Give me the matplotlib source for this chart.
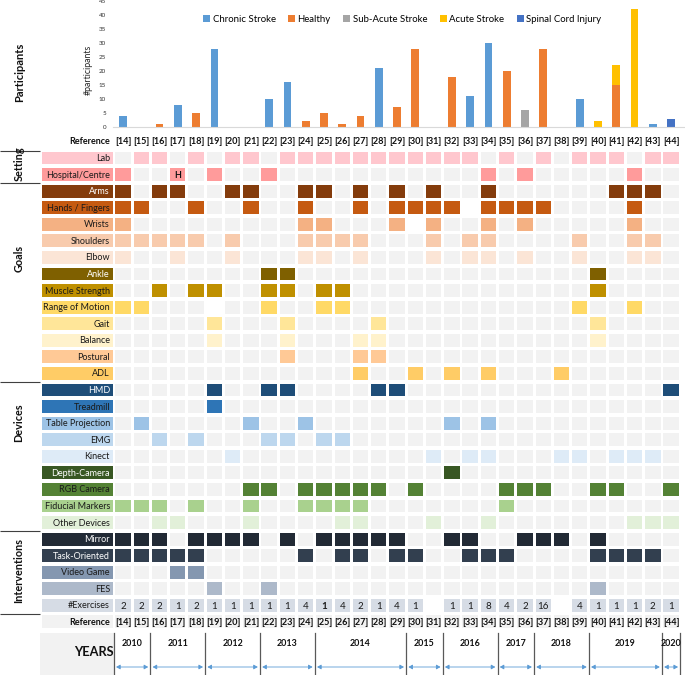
import matplotlib
matplotlib.use("Agg")
import matplotlib.pyplot as plt
from matplotlib.patches import Rectangle, FancyArrowPatch

plt.rcParams['font.family'] = ['Lato', 'DejaVu Sans']

# ---------------- data ----------------
REFS = list(range(14, 45))
REF_LABELS = [f"[{r}]" for r in REFS]

SERIES_NAMES = ["Chronic Stroke", "Healthy", "Sub-Acute Stroke", "Acute Stroke", "Spinal Cord Injury"]
CHRONIC = [4, 0, 0, 8, 0, 28, 0, 0, 10, 16, 0, 0, 0, 0, 21, 0, 0, 0, 0, 11, 30, 0, 0, 0, 0, 10, 0, 0, 0, 1, 0]
HEALTHY = [0, 0, 1, 0, 5, 0, 0, 0, 0, 0, 2, 5, 1, 4, 0, 7, 28, 0, 18, 0, 0, 20, 0, 28, 0, 0, 0, 15, 0, 0, 0]
SUBACUTE = [0] * 22 + [6] + [0] * 8
ACUTE = [0] * 26 + [2, 7, 42, 0, 0]
SPINAL = [0] * 30 + [3]

# rows of the table: references that are marked
LAB = [15, 16, 18, 20, 21, 23, 24, 25, 26, 27, 28, 29, 30, 31, 32, 33, 35, 37, 39, 40, 41, 43, 44]
HOSPITAL = [14, 17, 19, 22, 34, 36, 42]
ARMS = [14, 16, 17, 20, 21, 24, 25, 27, 29, 31, 34, 41, 42, 43]
HANDS = [14, 15, 18, 21, 24, 27, 29, 30, 31, 32, 34, 35, 36, 37, 42]
WRISTS = [14, 24, 25, 29, 31, 34, 36, 42]
SHOULDERS = [14, 15, 16, 17, 18, 20, 24, 25, 26, 27, 31, 33, 34, 39, 42, 43]
ELBOW = [14, 17, 20, 24, 25, 27, 31, 33, 34, 36, 39, 42, 43]
ANKLE = [22, 23, 40]
MUSCLE = [16, 18, 19, 22, 23, 25, 26, 40]
ROM = [14, 15, 22, 25, 26, 39, 42]
GAIT = [19, 23, 28, 40]
BALANCE = [19, 23, 27, 28, 40]
POSTURAL = [23, 27, 28]
ADL = [27, 30, 32, 34, 38]
HMD = [19, 22, 23, 28, 29, 44]
TREADMILL = [19]
TABLE_PROJ = [15, 21, 24, 32, 34]
EMG = [16, 18, 22, 23, 25, 26]
KINECT = [20, 31, 33, 34, 38, 39, 41, 42, 43]
DEPTH = [32]
RGB = [21, 22, 24, 25, 26, 27, 28, 30, 35, 36, 37, 40, 41, 44]
FIDUCIAL = [14, 15, 16, 18, 21, 24, 25, 26, 27, 35]
OTHER = [16, 17, 21, 26, 27, 31, 34, 42, 43, 44]
MIRROR = [14, 15, 16, 18, 19, 20, 21, 23, 25, 26, 27, 28, 29, 32, 33, 36, 37, 38, 40]
TASK = [14, 15, 16, 17, 18, 24, 26, 27, 29, 30, 33, 34, 35, 40, 41, 42, 43]
VIDEO = [17, 18]
FES = [19, 22, 40]
EXERCISES = [2, 2, 2, 1, 2, 1, 1, 1, 1, 1, 4, 1, 4, 2, 1, 4, 1, None, 1, 1, 8, 4, 2, 16, None, 4, 1, 1, 1, 2, 1]
EXERCISES_BOLD = [25]
HOSPITAL_H = [17]
MISSING_CELLS = {"Hands / Fingers": [33], "Wrists": [30], "Range of Motion": [19]}

ROW_LABELS = ["Lab", "Hospital/Centre", "Arms", "Hands / Fingers", "Wrists", "Shoulders", "Elbow",
              "Ankle", "Muscle Strength", "Range of Motion", "Gait", "Balance", "Postural", "ADL",
              "HMD", "Treadmill", "Table Projection", "EMG", "Kinect", "Depth-Camera", "RGB Camera",
              "Fiducial Markers", "Other Devices", "Mirror", "Task-Oriented", "Video Game", "FES"]
ROW_MARKS = [LAB, HOSPITAL, ARMS, HANDS, WRISTS, SHOULDERS, ELBOW, ANKLE, MUSCLE, ROM, GAIT,
             BALANCE, POSTURAL, ADL, HMD, TREADMILL, TABLE_PROJ, EMG, KINECT, DEPTH, RGB,
             FIDUCIAL, OTHER, MIRROR, TASK, VIDEO, FES]

GROUPS = ["Setting", "Goals", "Devices", "Interventions"]
YEARS = ["2010", "2011", "2012", "2013", "2014", "2015", "2016", "2017", "2018", "2019", "2020"]
YEAR_COUNTS = [2, 3, 3, 3, 5, 2, 3, 2, 3, 4, 1]

# ---------------- styles ----------------
SERIES_COLORS = ["#5B9BD5", "#ED7D31", "#A5A5A5", "#FFC000", "#4472C4"]
ROW_COLORS = ["#FFC7CE", "#FF9B9B", "#843C0C", "#C55A11", "#F4B183", "#F8CBAD", "#FBE5D6",
              "#7F6000", "#BF9000", "#FFD966", "#FFE699", "#FFF2CC", "#FFC996", "#FFCC66",
              "#1F4E79", "#2E75B6", "#9DC3E6", "#BDD7EE", "#DEEBF7", "#385723", "#548235",
              "#A9D18E", "#E2F0D9", "#222A35", "#323F4F", "#8497B0", "#ADB9CA"]
WHITE_TEXT = {"Arms", "Ankle", "HMD", "Depth-Camera", "Mirror", "Task-Oriented"}
EMPTY = "#F2F2F2"
EXER_COLOR = "#D6DCE5"

W, H = 685, 675
COL0, COLSTEP = 123.0, 18.27
ROW0, ROWSTEP = 158.0, 16.57


def cx(px):
    return (px - COL0) / COLSTEP


def ry(py):
    return (py - ROW0) / ROWSTEP


fig = plt.figure(figsize=(W / 100, H / 100), dpi=100)

# ---------------- table axes ----------------
ax = fig.add_axes([0, 0, 1, 1])
ax.set_xlim(cx(0), cx(W))
ax.set_ylim(ry(H), ry(0))
ax.axis("off")

cw, ch = 0.84, 0.78
lab_l, lab_r = cx(42), cx(113)
txt_x = cx(110)
fs_lab = 6.5

n = len(REFS)
nrows = len(ROW_LABELS)


def cell(i, r, color):
    ax.add_patch(Rectangle((i - cw / 2, r - ch / 2), cw, ch, facecolor=color, edgecolor="none"))


def label_box(r, text, color, tcolor, bold=False):
    ax.add_patch(Rectangle((lab_l, r - ch / 2), lab_r - lab_l, ch, facecolor=color, edgecolor="none"))
    ax.text(txt_x, r + 0.03, text, ha="right", va="center", fontsize=fs_lab, color=tcolor,
            fontweight="bold" if bold else "normal")


# header reference row
ax.text(txt_x, -1, "Reference", ha="right", va="center", fontsize=6.5, fontweight="bold", color="#111111")
for i, lab in enumerate(REF_LABELS):
    ax.text(i, -1, lab, ha="center", va="center", fontsize=6.6, fontweight="bold", color="#111111")

for r, (name, marks, col) in enumerate(zip(ROW_LABELS, ROW_MARKS, ROW_COLORS)):
    tcol = "white" if name in WHITE_TEXT else "#1a1a1a"
    label_box(r, name, col, tcol)
    missing = MISSING_CELLS.get(name, [])
    for i, ref in enumerate(REFS):
        if ref in missing:
            continue
        cell(i, r, col if ref in marks else EMPTY)
        if name == "Hospital/Centre" and ref in HOSPITAL_H:
            ax.text(i, r + 0.05, "H", ha="center", va="center", fontsize=6.4, fontweight="bold", color="#111111")

# exercises row
r_ex = nrows
label_box(r_ex, "#Exercises", EXER_COLOR, "#1a1a1a")
for i, (ref, v) in enumerate(zip(REFS, EXERCISES)):
    if v is None:
        continue
    cell(i, r_ex, EXER_COLOR)
    ax.text(i, r_ex + 0.05, str(v), ha="center", va="center", fontsize=7,
            fontweight="bold" if ref in EXERCISES_BOLD else "normal", color="#1a1a1a")

# bottom reference row
r_ref = nrows + 1
label_box(r_ref, "Reference", EMPTY, "#111111", bold=True)
for i, lab in enumerate(REF_LABELS):
    cell(i, r_ref, EMPTY)
    ax.text(i, r_ref + 0.03, lab, ha="center", va="center", fontsize=6.6, fontweight="bold", color="#111111")

# group labels and separators
sep_rows = [-0.45, 1.5, 13.5, 22.5, 27.5]
for y in sep_rows:
    ax.plot([cx(0), cx(40)], [y, y], color="#404040", lw=0.8, solid_capstyle="butt")
group_y = [0.35, 6.05, 16.0, 24.9]
for g, y in zip(GROUPS, group_y):
    ax.text(cx(19), y, g, rotation=90, ha="center", va="center", fontsize=7.8, fontweight="bold", color="#111111")

# years band
ax.add_patch(Rectangle((cx(40), ry(633)), cx(115) - cx(40), ry(675) - ry(633), facecolor=EMPTY, edgecolor="none"))
ax.text(cx(94), ry(652), "YEARS", ha="center", va="center", fontsize=9.2, fontweight="bold", color="#111111")
start = -0.5
bounds = [start]
for c in YEAR_COUNTS:
    bounds.append(bounds[-1] + c)
for b in bounds:
    ax.plot([b, b], [ry(633), ry(676)], color="#595959", lw=0.9)
for y, a, b in zip(YEARS, bounds[:-1], bounds[1:]):
    ax.text((a + b) / 2, ry(643), y, ha="center", va="center", fontsize=6.4, fontweight="bold", color="#111111")
    ax.add_patch(FancyArrowPatch((a + 0.12, ry(667)), (b - 0.12, ry(667)), arrowstyle="<|-|>,head_length=1.6,head_width=0.9",
                                 color="#5B9BD5", lw=0.6, shrinkA=0, shrinkB=0, mutation_scale=1.5))

# ---------------- participants bar chart ----------------
bax = fig.add_axes([113 / W, 1 - 127 / H, (W - 113) / W, 126 / H])
bax.set_facecolor("none")
bax.set_xlim(cx(113), cx(W))
bax.set_ylim(0, 45)
xs = list(range(n))
bottom = [0] * n
for name, vals, col in zip(SERIES_NAMES, [CHRONIC, HEALTHY, SUBACUTE, ACUTE, SPINAL], SERIES_COLORS):
    bax.bar(xs, vals, width=0.42, bottom=bottom, color=col, label=name, zorder=2)
    bottom = [b + v for b, v in zip(bottom, vals)]
for s in ["top", "right", "left"]:
    bax.spines[s].set_visible(False)
bax.spines["bottom"].set_color("#D9D9D9")
bax.spines["bottom"].set_linewidth(0.8)
bax.set_xticks([])
bax.set_yticks(range(0, 46, 5))
bax.tick_params(axis="y", length=0, labelsize=4.5, pad=5, labelcolor="#333333")
bax.set_ylabel("#participants", fontsize=6.3, color="#222222")
bax.yaxis.set_label_coords((93 - 113) / (W - 113), 0.45)
leg = bax.legend(ncol=5, loc="upper left", bbox_to_anchor=(203 / W, 1 - 15 / H), bbox_transform=fig.transFigure,
                 frameon=False, fontsize=6.9, handlelength=0.7, handleheight=0.7, handletextpad=0.3,
                 columnspacing=1.3, borderaxespad=0, borderpad=0)
fig.text(20 / W, 1 - 72 / H, "Participants", rotation=90, ha="center", va="center", fontsize=8,
         fontweight="bold", color="#111111")

fig.savefig("out.png", dpi=100)
